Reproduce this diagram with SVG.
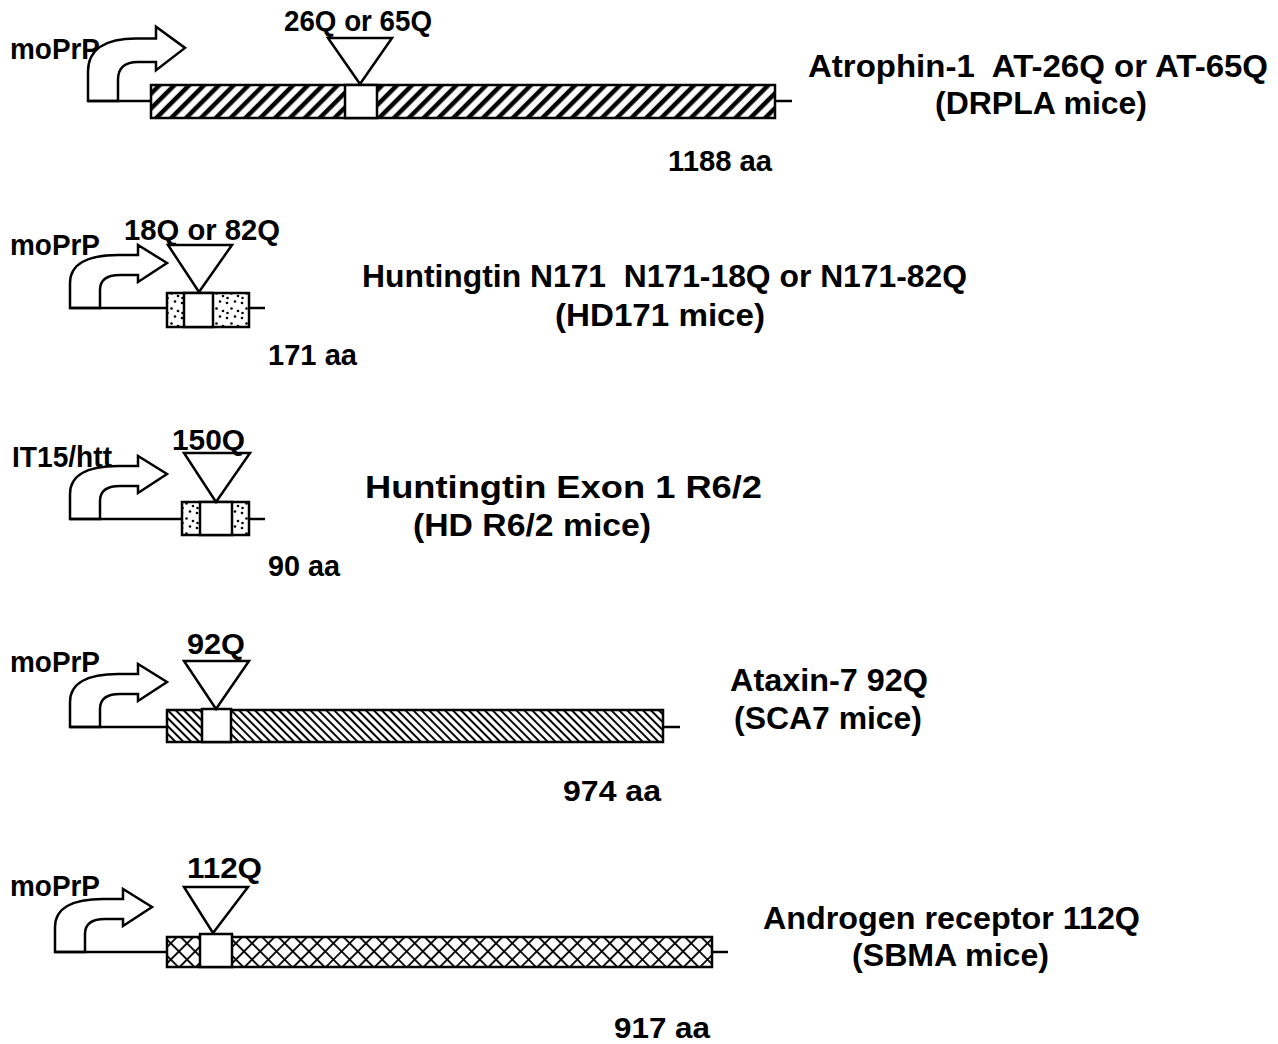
<svg xmlns="http://www.w3.org/2000/svg" width="1278" height="1044" viewBox="0 0 1278 1044">
<style>
text{font-family:"Liberation Sans",Arial,sans-serif;font-weight:bold;font-size:29px;fill:#000}
.r{font-size:32px}
.o{stroke:#000;stroke-width:2.5;fill:none}
.w{stroke:#000;stroke-width:2.5;fill:#fff}
</style>
<defs>
<pattern id="h1" patternUnits="userSpaceOnUse" width="10.5" height="10.5" patternTransform="rotate(45)">
<rect width="10.5" height="10.5" fill="#fff"/><line x1="5" y1="0" x2="5" y2="10.5" stroke="#000" stroke-width="4.5"/>
</pattern>
<pattern id="h4" patternUnits="userSpaceOnUse" width="5.6" height="5.6" patternTransform="rotate(-45)">
<rect width="5.6" height="5.6" fill="#fff"/><line x1="2.8" y1="0" x2="2.8" y2="5.6" stroke="#000" stroke-width="2"/>
</pattern>
<pattern id="h5" patternUnits="userSpaceOnUse" width="11.5" height="11.5" patternTransform="rotate(45)">
<rect width="11.5" height="11.5" fill="#fff"/><line x1="5.75" y1="0" x2="5.75" y2="11.5" stroke="#000" stroke-width="1.8"/><line x1="0" y1="5.75" x2="11.5" y2="5.75" stroke="#000" stroke-width="1.8"/>
</pattern>
<pattern id="dots" patternUnits="userSpaceOnUse" width="15" height="15">
<rect width="15" height="15" fill="#fff"/>
<circle cx="2" cy="3" r="1.3" fill="#000"/><circle cx="10" cy="1.5" r="1.3" fill="#000"/><circle cx="6.5" cy="8.5" r="1.3" fill="#000"/><circle cx="13" cy="11" r="1.3" fill="#000"/><circle cx="2.5" cy="13" r="1.3" fill="#000"/>
</pattern>
<path id="arr" d="M0,0 L0,-25 C0,-44 18,-53 48,-53 L68,-53 L68,-63 L97,-45 L68,-26 L68,-33 L50,-33 C36,-33 30,-28 30,-18 L30,0 Z" fill="#fff" stroke="#000" stroke-width="2.5" stroke-linejoin="miter" vector-effect="non-scaling-stroke"/>
</defs>

<g id="atrophin">
<use href="#arr" transform="translate(88,101) scale(1,1.18)"/>
<line class="o" x1="88" y1="101" x2="151" y2="101"/>
<rect x="151" y="85" width="624" height="33" fill="url(#h1)" stroke="#000" stroke-width="2.5"/>
<rect class="w" x="345" y="85" width="32" height="33"/>
<line class="o" x1="775" y1="101" x2="792" y2="101"/>
<polygon class="w" points="328,38 392,38 360,84"/>
<text x="10" y="59" textLength="90" lengthAdjust="spacingAndGlyphs">moPrP</text>
<text x="284" y="31" textLength="148" lengthAdjust="spacingAndGlyphs">26Q or 65Q</text>
<text class="r" x="808" y="77" textLength="460" lengthAdjust="spacingAndGlyphs" xml:space="preserve">Atrophin-1  AT-26Q or AT-65Q</text>
<text class="r" x="935" y="114" textLength="212" lengthAdjust="spacingAndGlyphs">(DRPLA mice)</text>
<text x="668" y="171" textLength="104" lengthAdjust="spacingAndGlyphs">1188 aa</text>
</g>

<g id="hd171">
<use href="#arr" transform="translate(70,308)"/>
<line class="o" x1="70" y1="308" x2="167" y2="308"/>
<rect x="167" y="293" width="82" height="34" fill="url(#dots)" stroke="#000" stroke-width="2.5"/>
<rect class="w" x="184" y="293" width="29" height="34"/>
<line class="o" x1="249" y1="308" x2="265" y2="308"/>
<polygon class="w" points="168,245 232,245 199,292"/>
<text x="10" y="255" textLength="90" lengthAdjust="spacingAndGlyphs">moPrP</text>
<text x="124" y="240" textLength="156" lengthAdjust="spacingAndGlyphs">18Q or 82Q</text>
<text class="r" x="362" y="287" textLength="605" lengthAdjust="spacingAndGlyphs" xml:space="preserve">Huntingtin N171  N171-18Q or N171-82Q</text>
<text class="r" x="555" y="326" textLength="210" lengthAdjust="spacingAndGlyphs">(HD171 mice)</text>
<text x="268" y="365" textLength="89" lengthAdjust="spacingAndGlyphs">171 aa</text>
</g>

<g id="r62">
<use href="#arr" transform="translate(70,519)"/>
<line class="o" x1="70" y1="519" x2="182" y2="519"/>
<rect x="182" y="502" width="67" height="33" fill="url(#dots)" stroke="#000" stroke-width="2.5"/>
<rect class="w" x="200" y="502" width="32" height="33"/>
<line class="o" x1="249" y1="519" x2="265" y2="519"/>
<polygon class="w" points="184,453 250,453 216,502"/>
<text x="12" y="467" textLength="100" lengthAdjust="spacingAndGlyphs">IT15/htt</text>
<text x="172" y="450" textLength="73" lengthAdjust="spacingAndGlyphs">150Q</text>
<text class="r" x="365" y="498" textLength="397" lengthAdjust="spacingAndGlyphs">Huntingtin Exon 1 R6/2</text>
<text class="r" x="413" y="536" textLength="238" lengthAdjust="spacingAndGlyphs">(HD R6/2 mice)</text>
<text x="268" y="576" textLength="72" lengthAdjust="spacingAndGlyphs">90 aa</text>
</g>

<g id="sca7">
<use href="#arr" transform="translate(70,727)"/>
<line class="o" x1="70" y1="727" x2="167" y2="727"/>
<rect x="167" y="710" width="496" height="32" fill="url(#h4)" stroke="#000" stroke-width="2.5"/>
<rect class="w" x="202" y="709" width="29" height="33"/>
<line class="o" x1="663" y1="727" x2="680" y2="727"/>
<polygon class="w" points="184,661 249,661 216,709"/>
<text x="10" y="672" textLength="90" lengthAdjust="spacingAndGlyphs">moPrP</text>
<text x="187" y="654" textLength="58" lengthAdjust="spacingAndGlyphs">92Q</text>
<text class="r" x="730" y="691" textLength="198" lengthAdjust="spacingAndGlyphs">Ataxin-7 92Q</text>
<text class="r" x="734" y="729" textLength="188" lengthAdjust="spacingAndGlyphs">(SCA7 mice)</text>
<text x="563" y="801" textLength="98" lengthAdjust="spacingAndGlyphs">974 aa</text>
</g>

<g id="sbma">
<use href="#arr" transform="translate(55,952)"/>
<line class="o" x1="55" y1="952" x2="167" y2="952"/>
<rect x="167" y="937" width="545" height="30" fill="url(#h5)" stroke="#000" stroke-width="2.5"/>
<rect class="w" x="200" y="934" width="32" height="33"/>
<line class="o" x1="712" y1="952" x2="728" y2="952"/>
<polygon class="w" points="184,887 248,887 213,933"/>
<text x="10" y="896" textLength="90" lengthAdjust="spacingAndGlyphs">moPrP</text>
<text x="187" y="878" textLength="75" lengthAdjust="spacingAndGlyphs">112Q</text>
<text class="r" x="763" y="929" textLength="377" lengthAdjust="spacingAndGlyphs">Androgen receptor 112Q</text>
<text class="r" x="852" y="966" textLength="197" lengthAdjust="spacingAndGlyphs">(SBMA mice)</text>
<text x="614" y="1038" textLength="96" lengthAdjust="spacingAndGlyphs">917 aa</text>
</g>

<g id="connectors"></g>
</svg>
